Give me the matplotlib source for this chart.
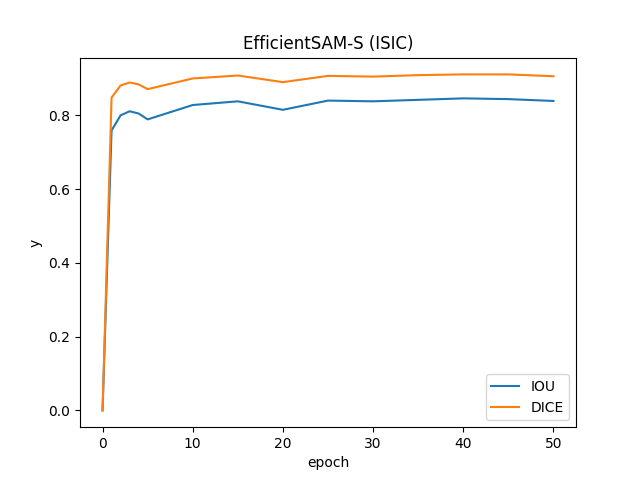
import matplotlib
matplotlib.use("Agg")
import matplotlib.pyplot as plt

epochs = [0, 1, 2, 3, 4, 5, 10, 15, 20, 25, 30, 35, 40, 45, 50]
iou = [0.0, 0.759, 0.800, 0.811, 0.805, 0.789, 0.828, 0.838, 0.815, 0.840, 0.838, 0.842, 0.846, 0.844, 0.839]
dice = [0.0, 0.848, 0.881, 0.889, 0.884, 0.871, 0.900, 0.908, 0.890, 0.907, 0.905, 0.909, 0.911, 0.911, 0.906]

fig, ax = plt.subplots(figsize=(6.4, 4.8), dpi=100)
ax.plot(epochs, iou, label="IOU")
ax.plot(epochs, dice, label="DICE")
ax.set_title("EfficientSAM-S (ISIC)")
ax.set_xlabel("epoch")
ax.set_ylabel("y")
ax.legend(loc="lower right")
fig.savefig("out.png")
